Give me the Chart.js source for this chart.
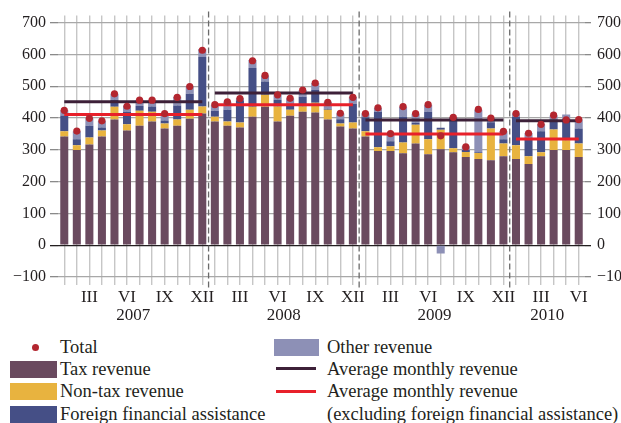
<!DOCTYPE html>
<html><head><meta charset="utf-8">
<script src="https://cdn.jsdelivr.net/npm/chart.js@4/dist/chart.umd.min.js"></script>
<style>
html,body{margin:0;padding:0;background:#fff;}
#wrap{position:relative;width:621px;height:423px;overflow:hidden;font-family:"Liberation Serif","Times New Roman",serif;color:#231f20;}
#cwrap{position:absolute;left:0;top:0;width:621px;height:335px;}
.lg{position:absolute;font-size:18.5px;line-height:20px;white-space:nowrap;}
.sw{position:absolute;}
</style></head><body>
<div id="wrap">
<div id="cwrap"><canvas id="c"></canvas></div>
<div class="sw" style="left:32px;top:344px;width:7px;height:7px;border-radius:50%;background:#b3262f;"></div>
<div class="lg" style="left:60px;top:337px;">Total</div>
<div class="sw" style="left:10px;top:361px;width:47px;height:17px;background:#6a4a5f;"></div>
<div class="lg" style="left:60px;top:359px;">Tax revenue</div>
<div class="sw" style="left:10px;top:383px;width:47px;height:17px;background:#e8b33f;"></div>
<div class="lg" style="left:60px;top:381px;">Non-tax revenue</div>
<div class="sw" style="left:10px;top:406px;width:47px;height:17px;background:#454f86;"></div>
<div class="lg" style="left:60px;top:404px;">Foreign financial assistance</div>
<div class="sw" style="left:274px;top:339px;width:45px;height:17px;background:#8d90b6;"></div>
<div class="lg" style="left:327px;top:337px;">Other revenue</div>
<div class="sw" style="left:276px;top:367px;width:40px;height:3px;background:#3d2038;"></div>
<div class="lg" style="left:327px;top:359px;">Average monthly revenue</div>
<div class="sw" style="left:276px;top:390px;width:40px;height:3px;background:#e8202a;"></div>
<div class="lg" style="left:327px;top:381px;">Average monthly revenue</div>
<div class="lg" style="left:327px;top:404px;">(excluding foreign financial assistance)</div>
</div>
<script>
const categories = [
 '2007-01','2007-02','2007-03','2007-04','2007-05','2007-06','2007-07','2007-08','2007-09','2007-10','2007-11','2007-12',
 '2008-01','2008-02','2008-03','2008-04','2008-05','2008-06','2008-07','2008-08','2008-09','2008-10','2008-11','2008-12',
 '2009-01','2009-02','2009-03','2009-04','2009-05','2009-06','2009-07','2009-08','2009-09','2009-10','2009-11','2009-12',
 '2010-01','2010-02','2010-03','2010-04','2010-05','2010-06'];
const tickLabels = [
 '','','III','','','VI','','','IX','','','XII',
 '','','III','','','VI','','','IX','','','XII',
 '','','III','','','VI','','','IX','','','XII',
 '','','III','','','VI'];
const years = ['2007','2008','2009','2010'];
const taxRevenue = [
 342,299,317,342,395,361,376,389,367,376,398,414,
 389,376,370,404,435,389,407,420,417,395,373,367,
 342,296,296,289,320,286,302,292,277,271,267,280,
 271,255,280,299,299,277];
const nonTaxRevenue = [
 16,15,22,19,40,19,47,31,16,19,28,22,
 15,13,16,31,38,47,19,16,31,31,10,19,
 16,12,15,34,59,47,61,13,16,19,100,40,
 43,25,12,65,31,43];
const foreignAssistance = [
 50,19,37,9,22,40,15,16,9,44,50,156,
 19,37,70,122,42,21,12,31,40,3,13,59,
 44,112,16,81,6,87,6,97,6,2,20,13,
 90,59,66,31,68,47];
const otherRevenue = [
 16,25,23,21,19,19,19,21,22,28,25,25,
 19,25,6,25,19,16,23,21,22,22,18,22,
 12,12,25,31,28,22,-26,0,12,134,12,25,
 10,13,22,13,13,28];
const totalRevenue = [
 424,359,399,391,476,437,456,456,414,465,499,613,
 442,451,461,580,534,473,462,488,510,449,415,465,
 414,432,351,436,414,442,344,402,309,427,400,358,
 414,352,380,409,394,395];
const avgMonthly = [451, 479, 394, 391];
const avgExForeign = [411, 442, 350, 334];

const yearOf = i => years.indexOf(categories[i].slice(0,4));
const avgLine = categories.map((c,i) => avgMonthly[yearOf(i)]);
const avgExLine = categories.map((c,i) => avgExForeign[yearOf(i)]);
const gapSeg = {borderColor: ctx => yearOf(ctx.p0DataIndex) !== yearOf(ctx.p1DataIndex) ? 'rgba(0,0,0,0)' : undefined};

const FONT = {family:'"Liberation Serif","Times New Roman",serif', size:17};
const YFONT = {family:'"Liberation Serif","Times New Roman",serif', size:16};
const TXT = '#231f20';

const overlay = {
  id:'overlay',
  beforeDatasetsDraw(chart){
    const ctx = chart.ctx, x = chart.scales.x, a = chart.chartArea;
    ctx.save();
    ctx.strokeStyle = '#6a6a6a'; ctx.lineWidth = 1.3; ctx.setLineDash([6,3]);
    for (let i=1;i<categories.length;i++){
      if (yearOf(i) !== yearOf(i-1)){
        const xp = (x.getPixelForValue(i-1) + x.getPixelForValue(i))/2;
        ctx.beginPath(); ctx.moveTo(xp, a.top-4); ctx.lineTo(xp, a.bottom+12); ctx.stroke();
      }
    }
    ctx.restore();
  },
  afterDraw(chart){
    const ctx = chart.ctx, x = chart.scales.x;
    ctx.save();
    ctx.fillStyle = TXT; ctx.font = '17px "Liberation Serif","Times New Roman",serif';
    ctx.textAlign = 'center'; ctx.textBaseline = 'middle';
    years.forEach((y, k) => {
      const idx = categories.map((c,i)=>i).filter(i => yearOf(i) === k);
      const xp = (x.getPixelForValue(idx[0]) + x.getPixelForValue(idx[idx.length-1]))/2;
      ctx.fillText(y, xp, 316);
    });
    ctx.restore();
  }
};

const barBase = {type:'bar', barPercentage:0.64, categoryPercentage:1.0, borderWidth:0, order:3};
new Chart(document.getElementById('c'), {
  data: {
    labels: categories,
    datasets: [
      {type:'line', label:'Total', data: totalRevenue, showLine:false, pointRadius:3.6, pointHoverRadius:3.6,
       pointBackgroundColor:'#b3262f', pointBorderWidth:0, stack:'total', order:0},
      {type:'line', label:'Average monthly revenue', data: avgLine, borderColor:'#3d2038', borderWidth:3,
       pointRadius:0, stack:'avg', segment: gapSeg, order:1},
      {type:'line', label:'Average monthly revenue (excluding foreign financial assistance)', data: avgExLine,
       borderColor:'#e8202a', borderWidth:3, pointRadius:0, stack:'avgx', segment: gapSeg, order:1},
      Object.assign({label:'Tax revenue', data: taxRevenue, backgroundColor:'#6a4a5f'}, barBase),
      Object.assign({label:'Non-tax revenue', data: nonTaxRevenue, backgroundColor:'#e8b33f'}, barBase),
      Object.assign({label:'Foreign financial assistance', data: foreignAssistance, backgroundColor:'#454f86'}, barBase),
      Object.assign({label:'Other revenue', data: otherRevenue, backgroundColor:'#8d90b6'}, barBase)
    ]
  },
  options: {
    responsive:true, maintainAspectRatio:false, animation:false, devicePixelRatio:1,
    layout:{padding:{top:12, left:0, right:0, bottom:0}},
    plugins:{legend:{display:false}, tooltip:{enabled:false}},
    scales:{
      x:{
        stacked:true, offset:true,
        border:{display:false},
        grid:{offset:false, color:'#c6c6c6', lineWidth:1.4, tickLength:8, tickColor:'#c6c6c6'},
        ticks:{autoSkip:false, maxRotation:0, minRotation:0, padding:2, color:TXT, font:FONT,
               callback:(v,i)=>tickLabels[i]},
        afterFit: s => { s.height = 58; }
      },
      y:{
        stacked:true, position:'left', min:-100, max:722,
        border:{display:false},
        grid:{color: c => (c.tick && c.tick.value===0) ? '#231f20' : '#a8a8a8',
              tickColor: c => (c.tick && c.tick.value===0) ? '#231f20' : '#8a8a8a',
              lineWidth:1.3, tickLength:8},
        ticks:{stepSize:100, includeBounds:false, padding:4, color:TXT, font:YFONT,
               callback: v => v < 0 ? '\u2212' + Math.abs(v) : String(v)},
        afterFit: s => { s.width = 58; }
      },
      y2:{
        position:'right', min:-100, max:722,
        border:{display:false},
        grid:{drawOnChartArea:false, tickLength:6,
              tickColor: c => (c.tick && c.tick.value===0) ? '#231f20' : '#8a8a8a', lineWidth:1.3},
        ticks:{stepSize:100, includeBounds:false, padding:6, color:TXT, font:YFONT,
               callback: v => v < 0 ? '\u2212' + Math.abs(v) : String(v)},
        afterFit: s => { s.width = 36; }
      }
    }
  },
  plugins:[overlay]
});
</script>
</body></html>
